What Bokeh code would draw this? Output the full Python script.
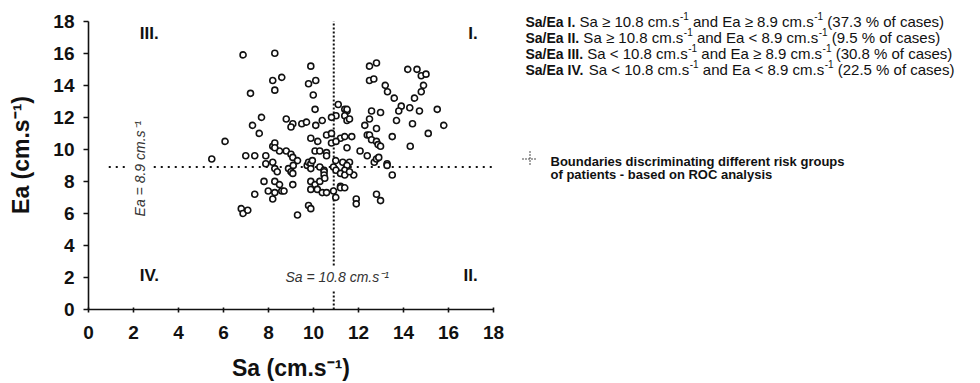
from math import pi
from bokeh.plotting import figure
from bokeh.models import Range1d, FixedTicker
from bokeh.layouts import row
from bokeh.embed import file_html
from bokeh.resources import INLINE
from bokeh.core.properties import value

# ---------------- data ----------------
sa = [6.87, 8.28, 9.88, 12.49, 12.8, 14.19, 14.6, 14.79, 15.0, 8.19, 8.59, 9.78, 10.1, 12.49, 12.68,
      8.28, 7.2, 9.99, 13.19, 13.29, 13.59, 14.89, 14.79, 14.49, 13.9, 13.79, 14.28, 14.71, 15.5, 15.79,
      15.1, 14.4, 13.69, 13.5, 14.3, 12.58, 12.98, 12.49, 12.28, 12.8, 12.39, 12.49, 12.58, 12.8, 12.87,
      12.98, 12.07, 12.39, 12.7, 12.8, 12.9, 13.27, 13.27, 13.5, 12.8, 12.98, 11.9, 11.9, 11.1, 11.39,
      11.49, 11.49, 11.39, 11.49, 11.6, 11.0, 10.8, 10.39, 10.1, 10.07, 10.58, 10.8, 10.8, 11.2, 11.39,
      11.7, 11.0, 11.49, 9.88, 10.19, 10.07, 10.28, 10.58, 10.58, 9.72, 9.78, 9.88, 9.88, 10.28, 10.47,
      10.47, 10.47, 10.89, 10.99, 11.3, 11.6, 11.49, 11.0, 11.39, 11.2, 11.39, 11.79, 9.88, 10.07, 10.28,
      9.88, 10.17, 10.39, 10.58, 10.89, 10.99, 11.2, 11.2, 11.39, 9.78, 9.88, 9.29, 8.79, 9.0, 9.08,
      9.29, 8.89, 9.0, 9.08, 8.49, 8.19, 8.28, 8.28, 7.88, 7.88, 8.19, 8.28, 8.39, 7.39, 6.99,
      6.07, 5.48, 7.8, 8.28, 8.49, 7.99, 8.28, 8.59, 8.69, 8.19, 7.39, 9.08, 6.79, 6.87, 7.08,
      7.69, 7.29, 7.59, 8.79, 9.08, 9.0, 9.48, 9.69, 9.1, 10.5, 11.6, 9.95]
ea = [15.9, 16.0, 15.2, 15.2, 15.4, 15.0, 15.0, 14.6, 14.7, 14.3, 14.5, 14.1, 14.3, 14.3, 14.4,
      13.7, 13.5, 13.4, 14.0, 13.6, 13.2, 14.0, 13.6, 13.2, 12.7, 12.4, 12.6, 12.4, 12.5, 11.5,
      11.0, 11.6, 11.8, 10.8, 10.2, 12.4, 12.3, 11.9, 11.5, 11.3, 10.9, 10.9, 10.6, 10.5, 10.3,
      10.2, 9.9, 9.6, 9.2, 9.4, 9.5, 9.1, 9.0, 8.4, 7.2, 6.8, 6.9, 6.6, 12.8, 12.5,
      12.4, 12.5, 12.1, 11.8, 11.9, 12.1, 12.0, 11.8, 11.5, 12.5, 10.9, 11.0, 10.4, 10.7, 10.8,
      10.8, 10.5, 10.1, 10.7, 10.5, 9.9, 9.9, 9.8, 9.6, 9.0, 9.2, 9.1, 8.8, 8.9, 8.7,
      8.6, 8.4, 8.9, 9.3, 9.2, 9.2, 9.0, 8.7, 8.7, 8.5, 8.4, 8.4, 8.0, 7.8, 8.0,
      7.5, 7.5, 7.3, 7.3, 7.4, 7.0, 7.7, 7.6, 7.6, 6.5, 6.3, 5.9, 9.9, 9.7, 9.5,
      9.3, 8.8, 8.6, 8.5, 9.9, 10.2, 10.4, 10.1, 9.6, 9.1, 9.2, 8.8, 8.6, 9.6, 9.6,
      10.5, 9.4, 8.0, 8.0, 7.8, 7.4, 7.3, 7.4, 7.4, 6.9, 7.2, 7.8, 6.3, 6.0, 6.2,
      12.0, 11.5, 11.0, 11.9, 11.6, 11.4, 11.6, 11.7, 9.0, 8.2, 8.6, 9.3]

x_ticks = [0, 2, 4, 6, 8, 10, 12, 14, 16, 18]
y_ticks = [0, 2, 4, 6, 8, 10, 12, 14, 16, 18]

sa_cut_label = "Sa = 10.8 cm.s\u207b\u00b9"
ea_cut_label = "Ea = 8.9 cm.s\u207b\u00b9"
sa_line = 10.9
ea_line = 8.9

quadrants = ["I.", "II.", "III.", "IV."]
legend_heads = ["Sa/Ea I.", "Sa/Ea II.", "Sa/Ea III.", "Sa/Ea IV."]
sa_ops = ["\u2265", "\u2265", "<", "<"]
ea_ops = ["\u2265", "<", "\u2265", "<"]
pcts = ["37.3", "9.5", "30.8", "22.5"]
boundary_text = ["Boundaries discriminating different risk groups",
                 "of patients - based on ROC analysis"]

FONT = "Liberation Sans"
INK = "#111111"

# ---------------- scatter figure ----------------
# frame: y = 0 at 312 px, y = 18 at 21 px -> top of frame (0 px) is 18 + 21*18/291
y_top = 18 + 21 * 18 / 291
p = figure(width=510, height=383, x_range=Range1d(0, 18), y_range=Range1d(0, y_top),
           output_backend="svg", toolbar_location=None,
           min_border_left=88, min_border_right=17, min_border_top=0, min_border_bottom=71)
p.outline_line_color = None
p.grid.visible = False
p.background_fill_color = "white"
p.border_fill_color = "white"

for ax, tk in ((p.xaxis, x_ticks), (p.yaxis, y_ticks)):
    ax.ticker = FixedTicker(ticks=tk)
    ax.minor_tick_line_color = None
    ax.axis_line_color = INK
    ax.axis_line_width = 1.6
    ax.major_tick_line_color = INK
    ax.major_tick_line_width = 1.6
    ax.major_label_text_font = FONT
    ax.major_label_text_font_style = "bold"
    ax.major_label_text_font_size = "19px"
    ax.major_label_text_color = INK
    ax.axis_label_text_font = FONT
    ax.axis_label_text_font_style = "bold"
    ax.axis_label_text_font_size = "23px"
    ax.axis_label_text_color = INK

p.yaxis.bounds = (0, 18)
p.xaxis.axis_label = "Sa (cm.s\u207b\u00b9)"
p.yaxis.axis_label = "Ea (cm.s\u207b\u00b9)"
p.xaxis.major_tick_in = 2
p.xaxis.major_tick_out = 3
p.yaxis.major_tick_in = 0
p.yaxis.major_tick_out = 5
p.xaxis.major_label_standoff = 13
p.yaxis.major_label_standoff = 9
p.xaxis.axis_label_standoff = 13
p.yaxis.axis_label_standoff = 16

# boundary lines (dotted)
p.line(x=[sa_line, sa_line], y=[2.75, 18], line_color=INK, line_width=2, line_dash="2 2")
p.line(x=[sa_line, sa_line], y=[0, 1.2], line_color=INK, line_width=2, line_dash="2 2")
p.line(x=[0.9, 1.75], y=[ea_line, ea_line], line_color=INK, line_width=2, line_dash="2 5")
p.line(x=[2.9, 17.95], y=[ea_line, ea_line], line_color=INK, line_width=2, line_dash="2 5")

p.scatter(sa, ea, marker="circle", size=6, fill_color="white", line_color=INK, line_width=1.6)

p.text(x=[11.05], y=[2.0], text=[sa_cut_label], text_align="center", text_baseline="middle",
       text_font=value(FONT), text_font_style="italic", text_font_size="14px", text_color="#333333")
p.text(x=[2.31], y=[8.8], text=[ea_cut_label], angle=pi / 2, text_align="center",
       text_baseline="middle", text_font=value(FONT), text_font_style="italic",
       text_font_size="14px", text_color="#333333")

p.text(x=[17.3, 17.3], y=[17.25, 2.1], text=[quadrants[0], quadrants[1]], text_align="right",
       text_baseline="middle", text_font=value(FONT), text_font_style="bold",
       text_font_size="17px", text_color=INK)
p.text(x=[2.28, 2.28], y=[17.25, 2.1], text=[quadrants[2], quadrants[3]], text_align="left",
       text_baseline="middle", text_font=value(FONT), text_font_style="bold",
       text_font_size="17px", text_color=INK)

# ---------------- text panel (pixel coordinates) ----------------
q = figure(width=470, height=383, x_range=Range1d(0, 470), y_range=Range1d(312, 0),
           output_backend="svg", toolbar_location=None,
           min_border_left=0, min_border_right=0, min_border_top=0, min_border_bottom=71,
           x_axis_type=None, y_axis_type=None)
q.outline_line_color = None
q.grid.visible = False

BOLD_W = {"S": 0.667, "a": 0.556, "/": 0.278, "E": 0.667, " ": 0.278, "I": 0.278,
          ".": 0.278, "V": 0.667}
REG_W = {" ": 0.278, "(": 0.333, ")": 0.333, ".": 0.278, "%": 0.889, "-": 0.333,
         "\u2265": 0.549, "<": 0.584, "a": 0.556, "c": 0.5, "d": 0.556, "e": 0.556,
         "f": 0.278, "m": 0.833, "n": 0.556, "o": 0.556, "s": 0.5, "S": 0.667, "E": 0.667}


def width(s, size, table):
    return sum(table.get(c, 0.556) for c in s) * size


head_size = 14
body_size = 15
sup_size = 10
x0 = 15
baselines = [21.5, 37.5, 53.8, 70.0]


def put(x, y, s, size, style="normal"):
    q.text(x=[x], y=[y], text=[s], text_align="left", text_baseline="alphabetic",
           text_font=value(FONT), text_font_style=style, text_font_size=f"{size}px",
           text_color=INK)


space = REG_W[" "] * body_size
for head, op1, op2, pct, yb in zip(legend_heads, sa_ops, ea_ops, pcts, baselines):
    put(x0, yb, head, head_size, "bold")
    x = x0 + width(head, head_size, BOLD_W) + space
    pieces = [(f"Sa {op1} 10.8 cm.s", False), ("-1", True),
              (f"and Ea {op2} 8.9 cm.s", False), ("-1", True),
              (f"({pct} % of cases)", False)]
    for s, sup in pieces:
        if sup:
            put(x + 0.5, yb - 5.5, s, sup_size)
            x += width(s, sup_size, REG_W) + 0.5 + space
        else:
            put(x, yb, s, body_size)
            x += width(s, body_size, REG_W)

# crosshair symbol
q.line(x=[12, 27], y=[160, 160], line_color=INK, line_width=1.5, line_dash="1 2")
q.line(x=[19.5, 19.5], y=[152.5, 167.5], line_color=INK, line_width=1.5, line_dash="1 2")

q.text(x=[40, 40], y=[162.5, 175.5], text=boundary_text, text_align="left",
       text_baseline="alphabetic", text_font=value(FONT), text_font_style="bold",
       text_font_size="13px", text_color=INK)

layout = row(p, q)
open("out.html", "w").write(file_html(layout, INLINE))
